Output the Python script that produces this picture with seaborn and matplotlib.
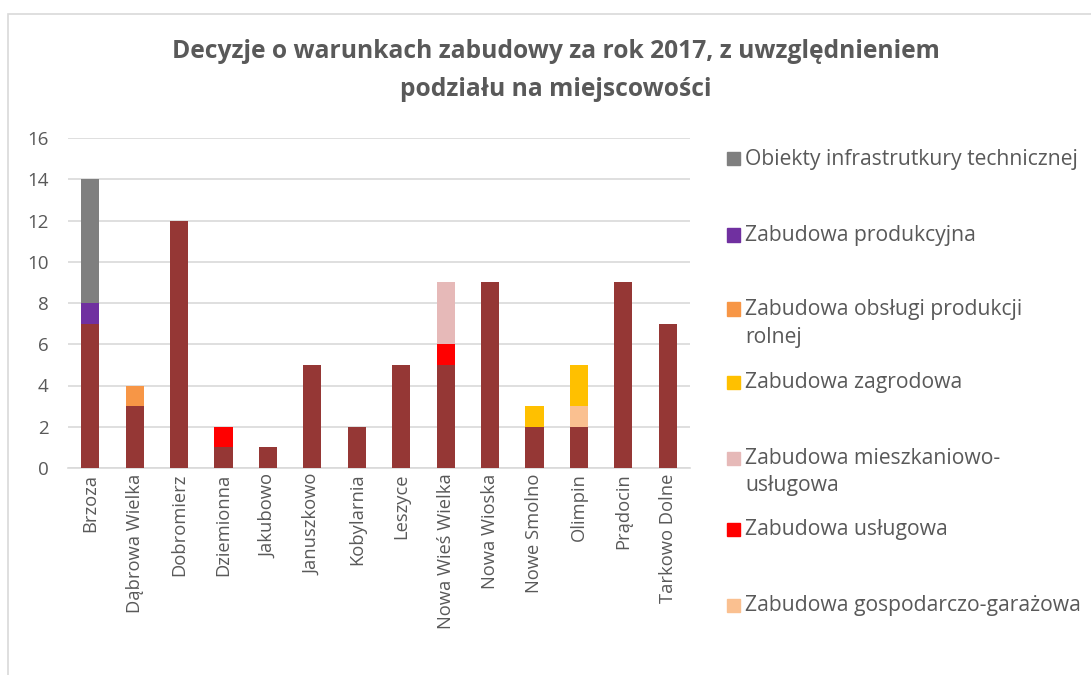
import numpy as np
import matplotlib
matplotlib.use("Agg")
import matplotlib.pyplot as plt
import seaborn as sns
from matplotlib.patches import Rectangle

categories = ["Brzoza", "Dąbrowa Wielka", "Dobromierz", "Dziemionna", "Jakubowo",
              "Januszkowo", "Kobylarnia", "Leszyce", "Nowa Wieś Wielka", "Nowa Wioska",
              "Nowe Smolno", "Olimpin", "Prądocin", "Tarkowo Dolne"]

# series from bottom of the stack to the top
mieszkaniowa = [7, 3, 12, 1, 1, 5, 2, 5, 5, 9, 2, 2, 9, 7]
gospodarczo_garazowa = [0, 0, 0, 0, 0, 0, 0, 0, 0, 0, 0, 1, 0, 0]
uslugowa = [0, 0, 0, 1, 0, 0, 0, 0, 1, 0, 0, 0, 0, 0]
mieszkaniowo_uslugowa = [0, 0, 0, 0, 0, 0, 0, 0, 3, 0, 0, 0, 0, 0]
zagrodowa = [0, 0, 0, 0, 0, 0, 0, 0, 0, 0, 1, 2, 0, 0]
obslugi_rolnej = [0, 1, 0, 0, 0, 0, 0, 0, 0, 0, 0, 0, 0, 0]
produkcyjna = [1, 0, 0, 0, 0, 0, 0, 0, 0, 0, 0, 0, 0, 0]
infrastruktura = [6, 0, 0, 0, 0, 0, 0, 0, 0, 0, 0, 0, 0, 0]

series = [
    ("Zabudowa mieszkaniowa jednorodzinna", mieszkaniowa, "#953735"),
    ("Zabudowa gospodarczo-garażowa", gospodarczo_garazowa, "#fac090"),
    ("Zabudowa usługowa", uslugowa, "#ff0000"),
    ("Zabudowa mieszkaniowo-\nusługowa", mieszkaniowo_uslugowa, "#e6b9b8"),
    ("Zabudowa zagrodowa", zagrodowa, "#ffc000"),
    ("Zabudowa obsługi produkcji\nrolnej", obslugi_rolnej, "#f79646"),
    ("Zabudowa produkcyjna", produkcyjna, "#7030a0"),
    ("Obiekty infrastrutkury technicznej", infrastruktura, "#7f7f7f"),
]

sns.set_style("white")
plt.rcParams['font.family'] = ['Open Sans', 'DejaVu Sans']
txt = "#595959"

fig = plt.figure(figsize=(10.91, 6.75), dpi=100)
ax = fig.add_axes([68 / 1091, 1 - 468 / 675, 622 / 1091, 330 / 675])

# stacked bars: draw cumulative totals from the top series down
cum = np.cumsum([np.array(s[1]) for s in series], axis=0)
for i in range(len(series) - 1, -1, -1):
    sns.barplot(x=categories, y=cum[i], color=series[i][2], saturation=1,
                width=0.41, linewidth=0, edgecolor=series[i][2], ax=ax, zorder=3)

ax.set_ylim(0, 16)
ax.set_yticks(range(0, 17, 2))
ax.grid(axis="y", color="#d9d9d9", lw=1.2, zorder=0)
ax.set_axisbelow(True)
for s in ["top", "right", "left"]:
    ax.spines[s].set_visible(False)
ax.spines["bottom"].set_color("#d9d9d9")
ax.spines["bottom"].set_linewidth(1.2)
ax.tick_params(axis="both", length=0, labelsize=13.2, colors=txt, pad=4)
ax.tick_params(axis="y", labelsize=13.5, pad=14)
ax.set_xticks(range(len(categories)))
ax.set_xticklabels(categories, rotation=90)
ax.set_xlabel("")
ax.set_ylabel("")

fig.text(556 / 1091, 1 - 52 / 675,
         "Decyzje o warunkach zabudowy za rok 2017, z uwzględnieniem",
         ha="center", va="center", fontsize=17.7, fontweight="bold", color=txt)
fig.text(556 / 1091, 1 - 90 / 675, "podziału na miejscowości",
         ha="center", va="center", fontsize=17.7, fontweight="bold", color=txt)

# legend (top of stack first), entries placed at even steps like the original
centers = [158, 235, 309, 382, 458, 529, 605]
for (label, _, color), yc in zip(series[::-1], centers):
    fig.patches.append(Rectangle((727 / 1091, 1 - (yc + 6.5) / 675), 13 / 1091, 13 / 675,
                                 transform=fig.transFigure, color=color))
    for k, line in enumerate(label.split("\n")):
        fig.text(745 / 1091, 1 - (yc + 1 + 27 * k) / 675, line, ha="left", va="center",
                 fontsize=15.2, color=txt)

# chart border (runs off the right and bottom edges)
fig.patches.append(Rectangle((8 / 1091, -0.1), 1.2, 1.1 - 14 / 675, transform=fig.transFigure,
                             fill=False, edgecolor="#d9d9d9", lw=1.2))

fig.savefig("out.png", dpi=100)
